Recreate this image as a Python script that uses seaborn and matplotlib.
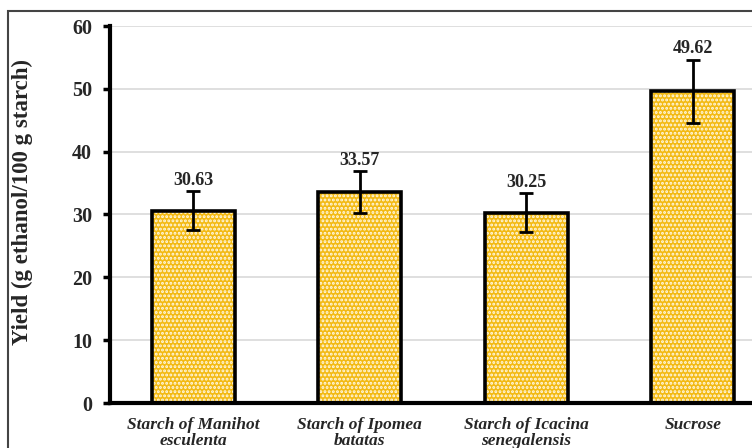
import numpy as np
import pandas as pd
import matplotlib
matplotlib.use("Agg")
import matplotlib.pyplot as plt
from matplotlib.patches import Rectangle
import seaborn as sns

# Ethanol yield per substrate
substrates = ["Starch of Manihot\nesculenta", "Starch of Ipomea\nbatatas",
              "Starch of Icacina\nsenegalensis", "Sucrose"]
yields = [30.63, 33.57, 30.25, 49.62]
yield_sd = [3.1, 3.35, 3.1, 5.0]
yticks = [0, 10, 20, 30, 40, 50, 60]

df = pd.DataFrame({"substrate": substrates, "yield": yields})

sns.set_theme(style="white")
plt.rcParams["font.family"] = ["Liberation Serif", "DejaVu Serif"]
plt.rcParams["font.weight"] = "bold"
plt.rcParams["hatch.linewidth"] = 1.4

fig = plt.figure(figsize=(7.52, 4.48), dpi=100)
ax = fig.add_axes([110 / 752, 1 - 403 / 448, 666 / 752, 377 / 448])

gold = "#F3BA14"
sns.barplot(data=df, x="substrate", y="yield", color=gold, saturation=1,
            width=0.5, errorbar=None, ax=ax, zorder=2)

# white dotted fill pattern with a black outline drawn on top
for p in ax.patches:
    p.set_hatch("....")
    p.set_edgecolor("#FFF9E6")
    p.set_linewidth(0)
    ax.add_patch(Rectangle(p.get_xy(), p.get_width(), p.get_height(),
                           fill=False, edgecolor="black", linewidth=2.6, zorder=3))

xpos = np.arange(len(substrates))
ax.errorbar(xpos, yields, yerr=yield_sd, fmt="none", ecolor="black",
            elinewidth=2, capsize=5, capthick=2, zorder=4)

for x, v, e in zip(xpos, yields, yield_sd):
    ax.text(x, v + e + 0.4, f"{v:.2f}", ha="center", va="bottom",
            fontsize=13, fontweight="bold", zorder=5)

ax.set_xlim(-0.5, 3.5)
ax.set_ylim(0, 60)
ax.set_yticks(yticks)
ax.set_yticklabels([str(t) for t in yticks], fontsize=14.5, fontweight="bold")
ax.set_xticks(xpos)
ax.set_xticklabels(substrates, fontsize=12.5, fontweight="bold", fontstyle="italic",
                   linespacing=1.0)
ax.set_xlabel("")
ax.set_ylabel("Yield (g ethanol/100 g starch)", fontsize=16.5, fontweight="bold")
ax.yaxis.set_label_coords(-0.116, 0.533)

ax.yaxis.grid(True, color="#d9d9d9", linewidth=1.2, zorder=0)
ax.set_axisbelow(True)
for side in ["top", "right"]:
    ax.spines[side].set_visible(False)
for side in ["left", "bottom"]:
    ax.spines[side].set_color("black")
    ax.spines[side].set_linewidth(3)
ax.tick_params(axis="y", length=5, width=2.5, color="black", pad=8, left=True)
ax.tick_params(axis="x", length=0, pad=10)

# outer frame around the figure
fig.patches.append(Rectangle((8 / 752, -0.1), 1.2, 1 - 11 / 448 + 0.1,
                             transform=fig.transFigure, fill=False,
                             edgecolor="#444444", linewidth=1.5))

fig.savefig("out.png", dpi=100)
